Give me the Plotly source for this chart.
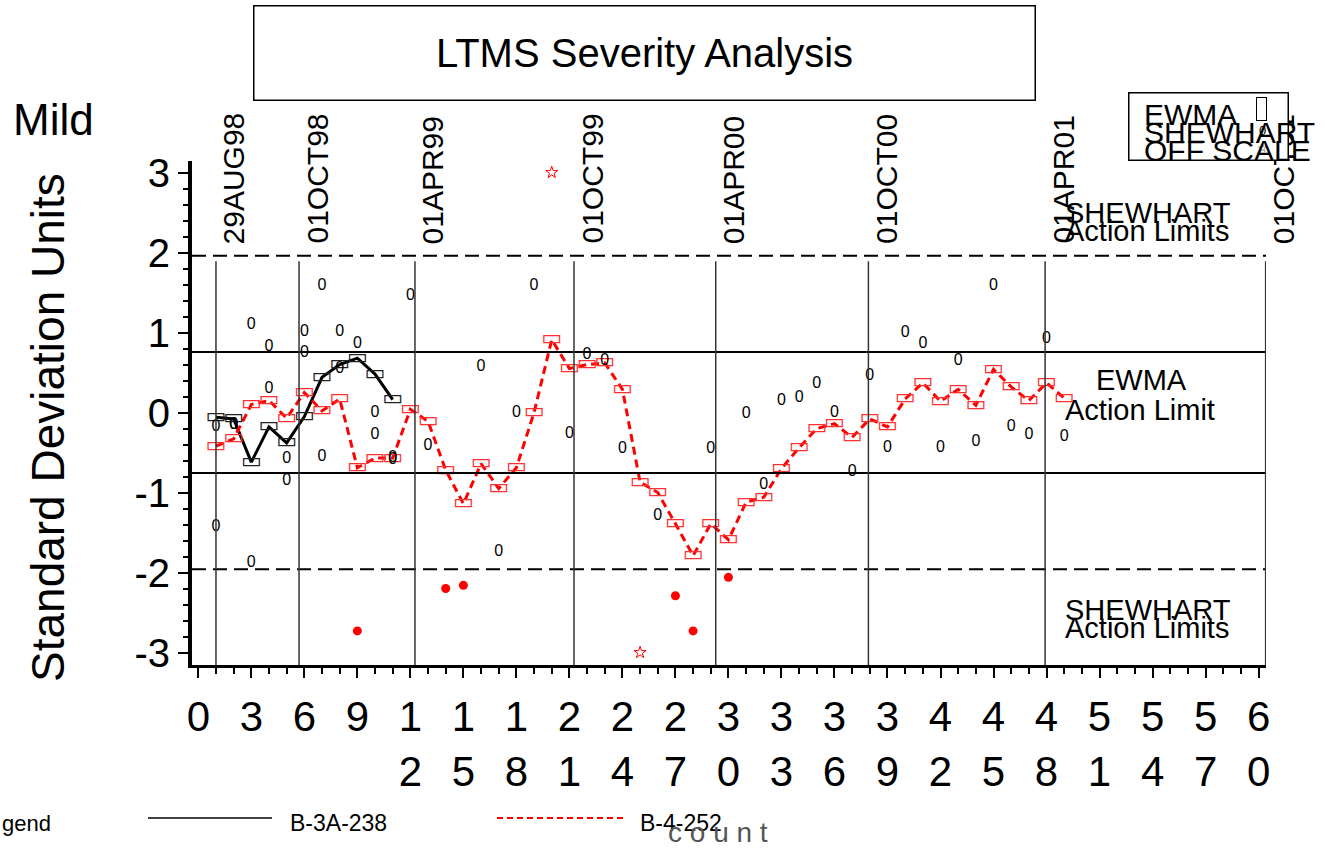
import plotly.graph_objects as go

# ---- values ----
runs_3a = list(range(1, 12))
ewma_3a = [-0.06, -0.08, -0.62, -0.18, -0.38, -0.05, 0.44, 0.60, 0.68, 0.48, 0.16]
shew_3a = [-0.18, -0.15, -1.88, 0.82, -0.86, 0.74, 1.58, 1.01, 0.86, 0.00, -0.59]

runs_4 = list(range(1, 50))
ewma_4 = [-0.42, -0.33, 0.10, 0.15, -0.07, 0.25, 0.02, 0.17, -0.69, -0.57,
          -0.57, 0.04, -0.11, -0.72, -1.14, -0.64, -0.95, -0.69, 0.00, 0.91,
          0.55, 0.60, 0.62, 0.29, -0.87, -1.00, -1.39, -1.79, -1.39, -1.59,
          -1.12, -1.06, -0.70, -0.44, -0.20, -0.14, -0.31, -0.08, -0.18, 0.17,
          0.37, 0.14, 0.29, 0.09, 0.54, 0.32, 0.15, 0.37, 0.18]
shew_4 = [-1.43, -0.16, 1.10, 0.29, -0.58, 1.01, -0.56, 0.55, -2.73, -0.28,
          -0.57, 1.46, -0.42, -2.20, -2.16, 0.57, -1.74, 0.00, 1.58, 3.03,
          -0.27, 0.72, 0.64, -0.46, -3.58, -1.29, -2.29, -2.73, -0.46, -2.06,
          -0.02, -0.90, 0.14, 0.18, 0.36, 0.00, -0.74, 0.46, -0.44, 1.00,
          0.86, -0.44, 0.64, -0.37, 1.58, -0.18, -0.28, 0.92, -0.30]

shewhart_limit = 1.96
ewma_limit = 0.755
scale_max = 3.0

date_labels = ['29AUG98', '01OCT98', '01APR99', '01OCT99', '01APR00',
               '01OCT00', '01APR01', '01OCT01']
date_pos = [1.0, 5.7, 12.26, 21.26, 29.28, 37.92, 47.92, 60.4]

x_tick_vals = list(range(0, 61, 3))
x_tick_text = ['0', '3', '6', '9', '1<br>2', '1<br>5', '1<br>8', '2<br>1',
               '2<br>4', '2<br>7', '3<br>0', '3<br>3', '3<br>6', '3<br>9',
               '4<br>2', '4<br>5', '4<br>8', '5<br>1', '5<br>4', '5<br>7',
               '6<br>0']
y_tick_vals = [-3, -2, -1, 0, 1, 2, 3]
y_tick_text = ['-3', '-2', '-1', '0', '1', '2', '3']

FONT = 'Liberation Sans, Arial, sans-serif'
RED = '#ff0000'

# plot area in page pixels, used to place the surrounding text
PL, PR, PT, PB = 192, 1266, 161, 665


def px(x):
    return (x - PL) / (PR - PL)


def py(y):
    return (PB - y) / (PB - PT)


def split_points(runs, values):
    """Sort Shewhart values into in-limit, alarm and off-scale points"""
    groups = {'normal': ([], []), 'alarm': ([], []), 'off': ([], [])}
    for r, v in zip(runs, values):
        if abs(v) > scale_max:
            key, v = 'off', max(-scale_max, min(scale_max, v))
        elif abs(v) > shewhart_limit:
            key = 'alarm'
        else:
            key = 'normal'
        groups[key][0].append(r)
        groups[key][1].append(v)
    return groups


fig = go.Figure()

# EWMA lines
fig.add_trace(go.Scatter(x=runs_3a, y=ewma_3a, mode='lines', name='B-3A-238',
                         line=dict(color='black', width=3)))
fig.add_trace(go.Scatter(x=runs_4, y=ewma_4, mode='lines', name='B-4-252',
                         line=dict(color=RED, width=3, dash='8px,5px')))

# EWMA rectangles
fig.add_trace(go.Scatter(x=runs_3a, y=ewma_3a, mode='text', text=['\u25ad'] * len(runs_3a),
                         textfont=dict(family='DejaVu Sans', size=22, color='#222'),
                         hoverinfo='skip'))
fig.add_trace(go.Scatter(x=runs_4, y=ewma_4, mode='text', text=['\u25ad'] * len(runs_4),
                         textfont=dict(family='DejaVu Sans', size=22, color='#ff3030'),
                         hoverinfo='skip'))

# Shewhart points
for runs, vals in [(runs_3a, shew_3a), (runs_4, shew_4)]:
    g = split_points(runs, vals)
    fig.add_trace(go.Scatter(x=g['normal'][0], y=g['normal'][1], mode='text',
                             text=['0'] * len(g['normal'][0]),
                             textfont=dict(family=FONT, size=16, color='black')))
    fig.add_trace(go.Scatter(x=g['alarm'][0], y=g['alarm'][1], mode='markers',
                             marker=dict(symbol='circle', size=9, color=RED)))
    fig.add_trace(go.Scatter(x=g['off'][0], y=g['off'][1], mode='markers',
                             marker=dict(symbol='star-open', size=9, color=RED,
                                         line=dict(width=1, color=RED))))

y_lo, y_hi = -3.156, 3.144

shapes = []
for s in (1, -1):
    shapes.append(dict(type='line', xref='paper', x0=0, x1=1, yref='y',
                       y0=s * shewhart_limit, y1=s * shewhart_limit,
                       line=dict(color='black', width=2, dash='14px,7px')))
    shapes.append(dict(type='line', xref='paper', x0=0, x1=1, yref='y',
                       y0=s * ewma_limit, y1=s * ewma_limit,
                       line=dict(color='black', width=2)))
for d in date_pos:
    shapes.append(dict(type='line', xref='x', x0=d, x1=d, yref='y',
                       y0=y_lo, y1=1.89, line=dict(color='#333', width=1.5)))

# bottom legend lines
shapes.append(dict(type='line', xref='paper', yref='paper', x0=px(148), x1=px(272),
                   y0=py(818), y1=py(818), line=dict(color='black', width=1.5)))
shapes.append(dict(type='line', xref='paper', yref='paper', x0=px(497), x1=px(626),
                   y0=py(818), y1=py(818), line=dict(color=RED, width=2, dash='6px,4px')))


def text(x, y, t, size, **kw):
    d = dict(xref='paper', yref='paper', x=px(x), y=py(y), text=t, showarrow=False,
             xanchor='center', yanchor='middle',
             font=dict(family=FONT, size=size, color=kw.pop('color', 'black')))
    d.update(kw)
    return d


annotations = []
for lab, d in zip(date_labels, date_pos):
    annotations.append(dict(xref='x', x=d, xshift=0, yref='paper', y=py(246),
                            text=lab, textangle=-90, showarrow=False,
                            xanchor='left', yanchor='bottom',
                            font=dict(family=FONT, size=30, color='black')))

annotations += [
    # title box
    text(644, 52.5, 'LTMS Severity Analysis', 40, bordercolor='black', borderwidth=1.5,
         borderpad=0, bgcolor='white', width=780, height=93),
    text(53, 119, 'Mild', 44),
    text(48, 428, 'Standard Deviation Units', 46, textangle=-90),
    # legend box in the top right
    text(1208, 126, ' ', 10, bordercolor='black', borderwidth=1.5, borderpad=0,
         bgcolor='white', width=158, height=66),
    text(1142, 114, 'EWMA', 30, xanchor='left'),
    text(1142, 132, 'SHEWHART', 30, xanchor='left'),
    text(1142, 150, 'OFF SCALE', 30, xanchor='left'),
    text(1261.5, 109, ' ', 8, bordercolor='black', borderwidth=1, borderpad=0,
         width=9, height=22),
    text(1262, 130, '0', 13),
    text(1262, 148, '\u2606', 12),
    # limit labels
    text(1148, 213, 'SHEWHART', 29),
    text(1147, 231, 'Action Limits', 29),
    text(1141, 380, 'EWMA', 29),
    text(1140, 410, 'Action Limit', 29),
    text(1148, 610, 'SHEWHART', 29),
    text(1147, 628, 'Action Limits', 29),
    # bottom legend
    text(0, 823, 'gend', 22, xanchor='left'),
    text(288, 823, 'B-3A-238', 23, xanchor='left'),
    text(638, 823, 'B-4-252', 23, xanchor='left'),
    text(718, 832, 'c o u n t', 28, color='#555'),
]

fig.update_layout(
    width=1325, height=852,
    margin=dict(l=PL, r=1325 - PR, t=PT, b=852 - PB),
    paper_bgcolor='white', plot_bgcolor='white',
    showlegend=False,
    font=dict(family=FONT, color='black'),
    xaxis=dict(range=[-0.357, 60.42], tickmode='array', tickvals=x_tick_vals,
               ticktext=x_tick_text, ticks='outside', ticklen=10, tickwidth=2,
               tickcolor='black', tickfont=dict(family=FONT, size=42),
               showline=True, linewidth=3, linecolor='black',
               showgrid=False, zeroline=False, ticklabelstandoff=3,
               minor=dict(tickmode='linear', tick0=0, dtick=1, ticks='outside',
                          ticklen=6, tickwidth=1.5, tickcolor='black', showgrid=False)),
    yaxis=dict(range=[y_lo, y_hi], tickmode='array', tickvals=y_tick_vals,
               ticktext=y_tick_text, ticks='outside', ticklen=10, tickwidth=2,
               tickcolor='black', tickfont=dict(family=FONT, size=40),
               showline=True, linewidth=4, linecolor='black',
               showgrid=False, zeroline=False,
               minor=dict(tickmode='linear', tick0=0, dtick=0.2, ticks='outside',
                          ticklen=5, tickwidth=1.5, tickcolor='black', showgrid=False)),
    shapes=shapes,
    annotations=annotations,
)

fig.write_html('out.html', config={'displayModeBar': False},
               post_script="document.body.style.margin='0px';")
